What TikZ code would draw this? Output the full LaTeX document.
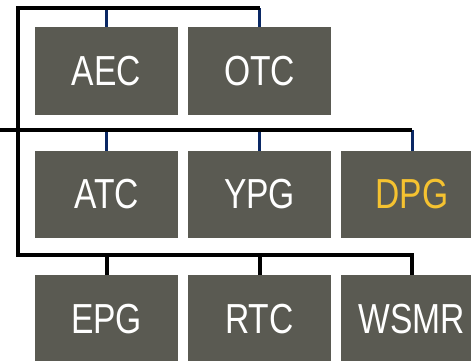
\documentclass[tikz,border=0pt]{standalone}
\usepackage{fontspec}
\setmainfont[FakeStretch=0.8]{Liberation Sans}
\definecolor{boxgray}{RGB}{90,90,82}
\definecolor{navy}{RGB}{10,40,100}
\definecolor{gold}{RGB}{245,194,48}
\begin{document}
\begin{tikzpicture}[x=1pt,y=-1pt,
  unit/.style={rectangle,fill=boxgray,text=white,minimum width=143pt,minimum height=88pt,inner sep=0pt,font=\fontsize{42}{42}\selectfont},
  blk/.style={line width=4pt,black},
  nv/.style={line width=3pt,navy}]
\useasboundingbox (0,0) rectangle (471,361);
\node[unit] (aec) at (106.5,71) {AEC};
\node[unit] (otc) at (259.5,71) {OTC};
\node[unit,minimum height=87pt] (atc) at (106.5,194.5) {ATC};
\node[unit,minimum height=87pt] (ypg) at (259.5,194.5) {YPG};
\node[unit,minimum height=87pt,text=gold] (dpg) at (412,194.5) {DPG};
\node[unit] (epg) at (106.5,319) {EPG};
\node[unit] (rtc) at (259.5,319) {RTC};
\node[unit] (wsmr) at (412,319) {WSMR};
\coordinate (top) at (18,8);
\coordinate (mid) at (0,130);
\coordinate (bot) at (18,255);
% navy drops
\draw[nv] (aec.north) -- (aec.north |- top);
\draw[nv] (otc.north) -- (otc.north |- top);
\draw[nv] (atc.north) -- (atc.north |- mid);
\draw[nv] (ypg.north) -- (ypg.north |- mid);
\draw[nv] (dpg.north) -- (dpg.north |- mid);
% black lines
\draw[blk,line join=miter] (otc.north |- top) -- (top) -- (bot) -- (wsmr.north |- bot) -- (wsmr.north);
\draw[blk] (mid) -- (dpg.north |- mid);
\draw[blk] (epg.north) -- (epg.north |- bot);
\draw[blk] (rtc.north) -- (rtc.north |- bot);
\end{tikzpicture}
\end{document}
